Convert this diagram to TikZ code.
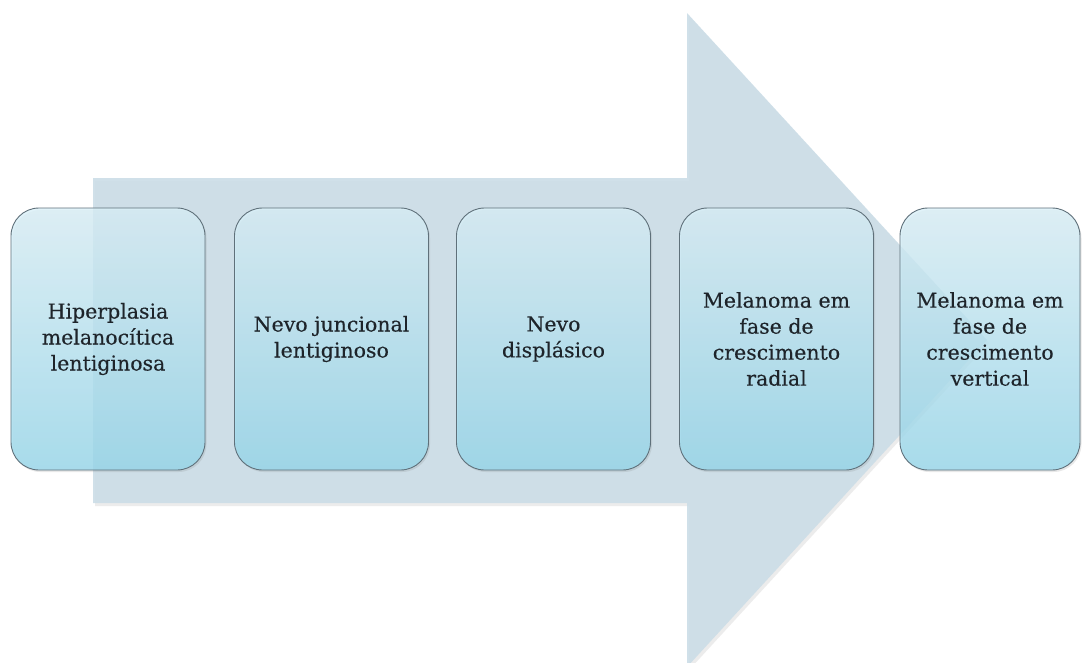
\documentclass[tikz,border=0pt]{standalone}
\usepackage{fontspec}
\newfontfamily\boxfont[FakeBold=0.3]{DejaVu Serif}
\usetikzlibrary{shadows}
\definecolor{arrowfill}{RGB}{203,221,231}
\definecolor{boxtop}{RGB}{218,240,248}
\definecolor{boxbot}{RGB}{150,216,236}
\definecolor{boxline}{RGB}{95,112,122}
\definecolor{txt}{RGB}{30,36,42}
\tikzset{
  stagebox/.style={draw=boxline, line width=0.9pt, rounded corners=28pt,
    top color=boxtop, bottom color=boxbot, fill opacity=0.78, text opacity=1,
    minimum width=194pt, minimum height=262pt, inner sep=0pt,
    align=center, text=txt, font=\boxfont\fontsize{20.5}{26}\selectfont,
    drop shadow={opacity=0.18, shadow xshift=1.5pt, shadow yshift=-2pt}},
  bigarrow/.style={fill=arrowfill, fill opacity=0.9, draw=none,
    drop shadow={opacity=0.15, shadow xshift=2pt, shadow yshift=-3pt}}
}
\begin{document}
\begin{tikzpicture}[x=1pt,y=-1pt]
\clip (0,0) rectangle (1082,662);
\useasboundingbox (0,0) rectangle (1082,662);
\fill[white] (0,0) rectangle (1082,662);
\path[bigarrow] (93,178) -- (687,178) -- (687,13) -- (987,340) -- (687,667)
  -- (687,503) -- (93,503) -- cycle;
\node[stagebox] (s1) at (108,339) {Hiperplasia\\melanocítica\\lentiginosa};
\node[stagebox] (s2) at (331.5,339) {Nevo juncional\\lentiginoso};
\node[stagebox] (s3) at (553.5,339) {Nevo\\displásico};
\node[stagebox] (s4) at (776.5,339) {Melanoma em\\fase de\\crescimento\\radial};
\node[stagebox, minimum width=180pt] (s5) at (990,339) {Melanoma em\\fase de\\crescimento\\vertical};
\end{tikzpicture}
\end{document}
